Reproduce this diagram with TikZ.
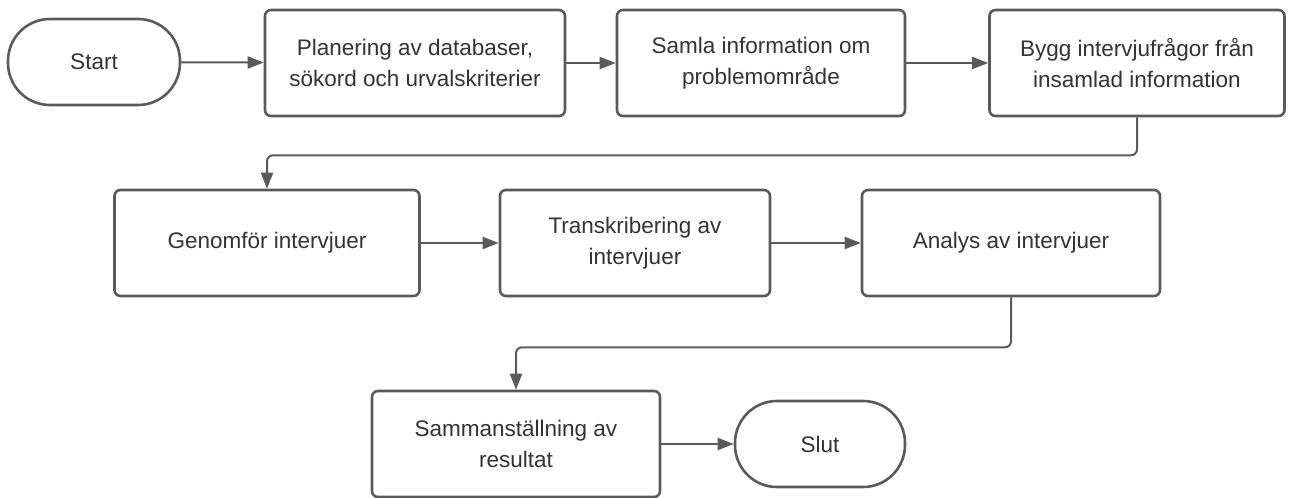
\documentclass[tikz,border=0pt]{standalone}
\usepackage{fontspec}
\setmainfont{Liberation Sans}
\usetikzlibrary{arrows.meta,positioning}

\definecolor{edgegray}{HTML}{5A5A5A}
\definecolor{textgray}{HTML}{333333}

\tikzset{
  box/.style={draw=edgegray, line width=2.6pt, rounded corners=6pt, fill=white,
    minimum height=106pt, align=center, text=textgray,
    font=\fontsize{22.5}{31}\selectfont},
  term/.style={box, rounded corners=42pt, minimum height=86pt},
  flow/.style={draw=edgegray, line width=2pt, rounded corners=6pt,
    -{Triangle[length=16pt,width=12pt]}}
}

\begin{document}
\begin{tikzpicture}[x=1pt, y=-1pt]
  \useasboundingbox (0,0) rectangle (1291,498);

  % First row
  \node[term, minimum width=172pt] (start) at (94,62) {Start};
  \node[box, minimum width=300pt] (plan) at (415,63) {Planering av databaser,\\sökord och urvalskriterier};
  \node[box, minimum width=288pt] (samla) at (761,63) {Samla information om\\problemområde};
  \node[box, minimum width=295pt] (bygg) at (1137,63) {Bygg intervjufrågor från\\insamlad information};

  % Second row
  \node[box, minimum width=305pt] (genomfor) at (267,243) {Genomför intervjuer};
  \node[box, minimum width=270pt] (transkr) at (635,243) {Transkribering av\\intervjuer};
  \node[box, minimum width=298pt] (analys) at (1011,243) {Analys av intervjuer};

  % Third row
  \node[box, minimum width=288pt] (samman) at (516,444) {Sammanställning av\\resultat};
  \node[term, minimum width=170pt] (slut) at (820,444) {Slut};

  % Connectors
  \draw[flow] (start) -- (plan);
  \draw[flow] (plan) -- (samla);
  \draw[flow] (samla) -- (bygg);
  \draw[flow] (bygg.south) -- ++(0,38) -| (genomfor.north);
  \draw[flow] (genomfor) -- (transkr);
  \draw[flow] (transkr) -- (analys);
  \draw[flow] (analys.south) -- ++(0,50) -| (samman.north);
  \draw[flow] (samman) -- (slut);
\end{tikzpicture}
\end{document}
